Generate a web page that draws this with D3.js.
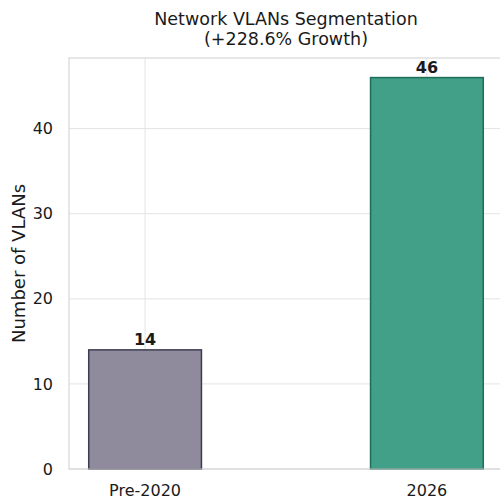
<!DOCTYPE html>
<html>
<head>
<meta charset="utf-8">
<script src="https://cdn.jsdelivr.net/npm/d3@7"></script>
<style>
  body { margin: 0; background: #fff; }
  svg { display: block; font-family: "DejaVu Sans", sans-serif; }
</style>
</head>
<body>
<div id="chart"></div>
<script>
// Data
const categories = ["Pre-2020", "2026"];
const vlanCounts = [14, 46];
const barColors = ["#8f8b9d", "#42a088"];
const edgeColors = ["#3e3c52", "#1d6e58"];
const yTicks = [0, 10, 20, 30, 40];

// Dimensions and margins (plot runs past the right edge, like the source crop)
const margin = { top: 58, right: -3, bottom: 30, left: 69 };
const totalW = 500, totalH = 499;
const width = totalW - margin.left - margin.right;
const height = totalH - margin.top - margin.bottom;

const svg = d3.select("#chart")
    .append("svg")
    .attr("width", totalW)
    .attr("height", totalH);

const g = svg.append("g")
    .attr("transform", `translate(${margin.left},${margin.top})`);

// Scales: bars at 0 and 1, width 0.4, with matplotlib-like 5% margins
const xScale = d3.scaleLinear()
    .domain([-0.27, 1.27])
    .range([0, width]);
const barW = xScale(0.4) - xScale(0);

const yScale = d3.scaleLinear()
    .domain([0, d3.max(vlanCounts) * 1.05])
    .range([height, 0]);

// Grid
g.selectAll(".hgrid")
    .data(yTicks)
    .enter()
    .append("line")
    .attr("x1", 0).attr("x2", width)
    .attr("y1", d => yScale(d)).attr("y2", d => yScale(d))
    .attr("stroke", "#e3e3e3")
    .attr("stroke-width", 1);

g.selectAll(".vgrid")
    .data(categories)
    .enter()
    .append("line")
    .attr("x1", (d, i) => xScale(i)).attr("x2", (d, i) => xScale(i))
    .attr("y1", 0).attr("y2", height)
    .attr("stroke", "#e3e3e3")
    .attr("stroke-width", 1);

// Bars
g.selectAll(".bar")
    .data(vlanCounts)
    .enter()
    .append("rect")
    .attr("x", (d, i) => xScale(i) - barW / 2)
    .attr("y", d => yScale(d))
    .attr("width", barW)
    .attr("height", d => height - yScale(d))
    .attr("fill", (d, i) => barColors[i])
    .attr("stroke", (d, i) => edgeColors[i])
    .attr("stroke-width", 1.5);

// Value labels
g.selectAll(".val")
    .data(vlanCounts)
    .enter()
    .append("text")
    .attr("x", (d, i) => xScale(i))
    .attr("y", d => yScale(d) - 5)
    .attr("text-anchor", "middle")
    .style("font-size", "16px")
    .style("font-weight", "bold")
    .attr("fill", "#1a1a1a")
    .text(d => d);

// Frame
g.append("rect")
    .attr("x", 0).attr("y", 0)
    .attr("width", width).attr("height", height)
    .attr("fill", "none")
    .attr("stroke", "#cfcfcf")
    .attr("stroke-width", 1);

// Y tick labels
g.selectAll(".ytick")
    .data(yTicks)
    .enter()
    .append("text")
    .attr("x", -16)
    .attr("y", d => yScale(d))
    .attr("dy", "0.35em")
    .attr("text-anchor", "end")
    .style("font-size", "16px")
    .attr("fill", "#1a1a1a")
    .text(d => d);

// X tick labels
g.selectAll(".xtick")
    .data(categories)
    .enter()
    .append("text")
    .attr("x", (d, i) => xScale(i))
    .attr("y", height + 27)
    .attr("text-anchor", "middle")
    .style("font-size", "16px")
    .attr("fill", "#1a1a1a")
    .text(d => d);

// Y axis label
g.append("text")
    .attr("transform", "rotate(-90)")
    .attr("x", -height / 2)
    .attr("y", -44)
    .attr("text-anchor", "middle")
    .style("font-size", "18px")
    .attr("fill", "#1a1a1a")
    .text("Number of VLANs");

// Title
const title = svg.append("text")
    .attr("text-anchor", "middle")
    .style("font-size", "17.5px")
    .attr("fill", "#1a1a1a");
title.append("tspan").attr("x", margin.left + width / 2).attr("y", 25).text("Network VLANs Segmentation");
title.append("tspan").attr("x", margin.left + width / 2).attr("y", 45).text("(+228.6% Growth)");
</script>
</body>
</html>
